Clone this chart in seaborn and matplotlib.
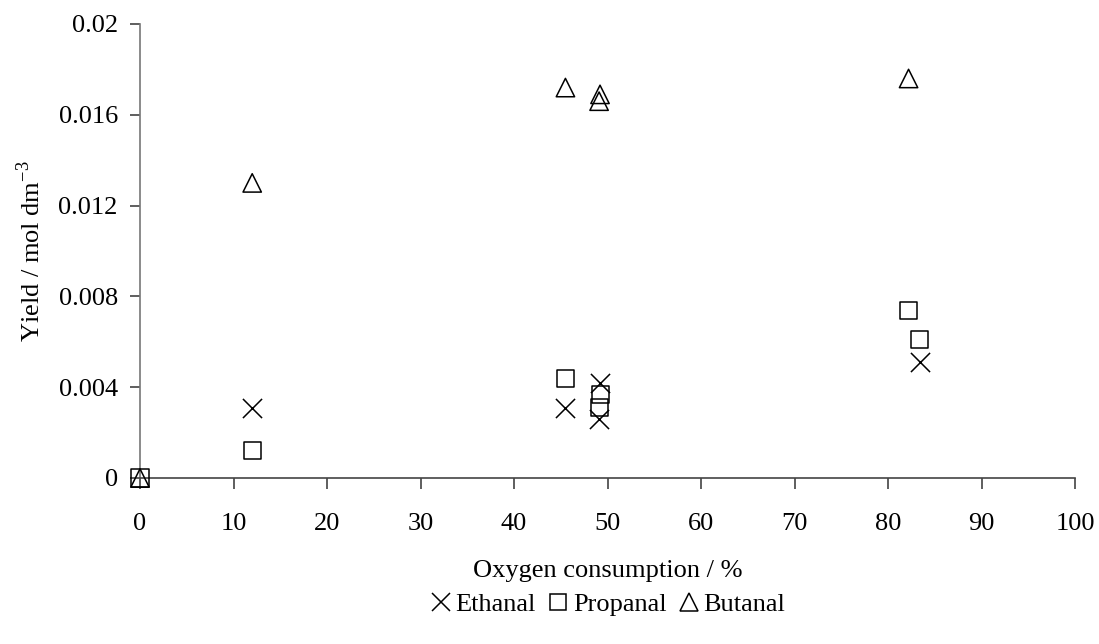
import matplotlib
matplotlib.use("Agg")
import matplotlib.pyplot as plt
from matplotlib.lines import Line2D
import seaborn as sns
import pandas as pd

# Aldehyde yields versus oxygen consumption
ethanal_x = [12, 45.5, 49.2, 49.1, 83.4]
ethanal_y = [0.0031, 0.0031, 0.0042, 0.0026, 0.0051]

propanal_x = [0, 12, 45.5, 49.2, 49.1, 82.2, 83.4]
propanal_y = [0, 0.0012, 0.0044, 0.0037, 0.0031, 0.0074, 0.0061]

butanal_x = [0, 12, 45.5, 49.2, 49.1, 82.2]
butanal_y = [0, 0.0130, 0.0172, 0.0169, 0.0166, 0.0176]

series_names = ["Ethanal", "Propanal", "Butanal"]
x_ticks = [0, 10, 20, 30, 40, 50, 60, 70, 80, 90, 100]
y_ticks = [0, 0.004, 0.008, 0.012, 0.016, 0.02]
y_tick_labels = ["0", "0.004", "0.008", "0.012", "0.016", "0.02"]

sns.set_theme(style="white")
plt.rcParams["font.family"] = ["Liberation Serif", "DejaVu Serif"]
plt.rcParams["mathtext.fontset"] = "custom"
plt.rcParams["mathtext.rm"] = "Liberation Serif"
plt.rcParams["text.color"] = "black"
plt.rcParams["axes.labelcolor"] = "black"

FS = 19

fig = plt.figure(figsize=(10.99, 6.44), dpi=100)
ax = fig.add_axes([140 / 1099, 1 - 478 / 644, (1075 - 140) / 1099, (478 - 24) / 644])

frames = {
    "Ethanal": pd.DataFrame({"x": ethanal_x, "y": ethanal_y}),
    "Propanal": pd.DataFrame({"x": propanal_x, "y": propanal_y}),
    "Butanal": pd.DataFrame({"x": butanal_x, "y": butanal_y}),
}
markers = {"Ethanal": "x", "Propanal": "s", "Butanal": "^"}
sizes = {"Ethanal": 190, "Propanal": 150, "Butanal": 175}

for name in series_names:
    m = markers[name]
    if m == "x":
        sns.scatterplot(data=frames[name], x="x", y="y", marker=m, s=sizes[name],
                        color="black", linewidth=1.1, ax=ax, clip_on=False, zorder=3)
    else:
        sns.scatterplot(data=frames[name], x="x", y="y", marker=m, s=sizes[name],
                        facecolor="none", edgecolor="black", linewidth=1.1,
                        ax=ax, clip_on=False, zorder=3)

ax.set_xlim(0, 100)
ax.set_ylim(0, 0.02)
ax.set_xticks(x_ticks)
ax.set_yticks(y_ticks)
ax.set_yticklabels(y_tick_labels)

for side in ["top", "right"]:
    ax.spines[side].set_visible(False)
ax.spines["left"].set_color("#777777")
ax.spines["bottom"].set_color("#444444")
for side in ["left", "bottom"]:
    ax.spines[side].set_linewidth(1.2)

ax.tick_params(axis="both", which="major", direction="out", labelsize=FS,
               labelcolor="black", bottom=True, left=True)
ax.tick_params(axis="x", length=8, width=1.1, color="#333333", pad=17)
ax.tick_params(axis="y", length=7, width=1.1, color="#333333", pad=9)

ax.set_xlabel("Oxygen consumption / %", fontsize=FS, labelpad=18, color="black")
ax.set_ylabel("Yield / mol dm$^{-3}$", fontsize=FS, labelpad=10, color="black")

handles = [
    Line2D([], [], marker="x", color="black", linestyle="none", markersize=13, markeredgewidth=1.1),
    Line2D([], [], marker="s", markerfacecolor="none", markeredgecolor="black",
           linestyle="none", markersize=12, markeredgewidth=1.1),
    Line2D([], [], marker="^", markerfacecolor="none", markeredgecolor="black",
           linestyle="none", markersize=13, markeredgewidth=1.1),
]
fig.legend(handles, series_names, loc="center", bbox_to_anchor=(606 / 1099, 1 - 604 / 644),
           ncol=3, frameon=False, fontsize=FS, handletextpad=0.0, columnspacing=0.3,
           handlelength=1.1)

fig.savefig("out.png", dpi=100, facecolor="white")
